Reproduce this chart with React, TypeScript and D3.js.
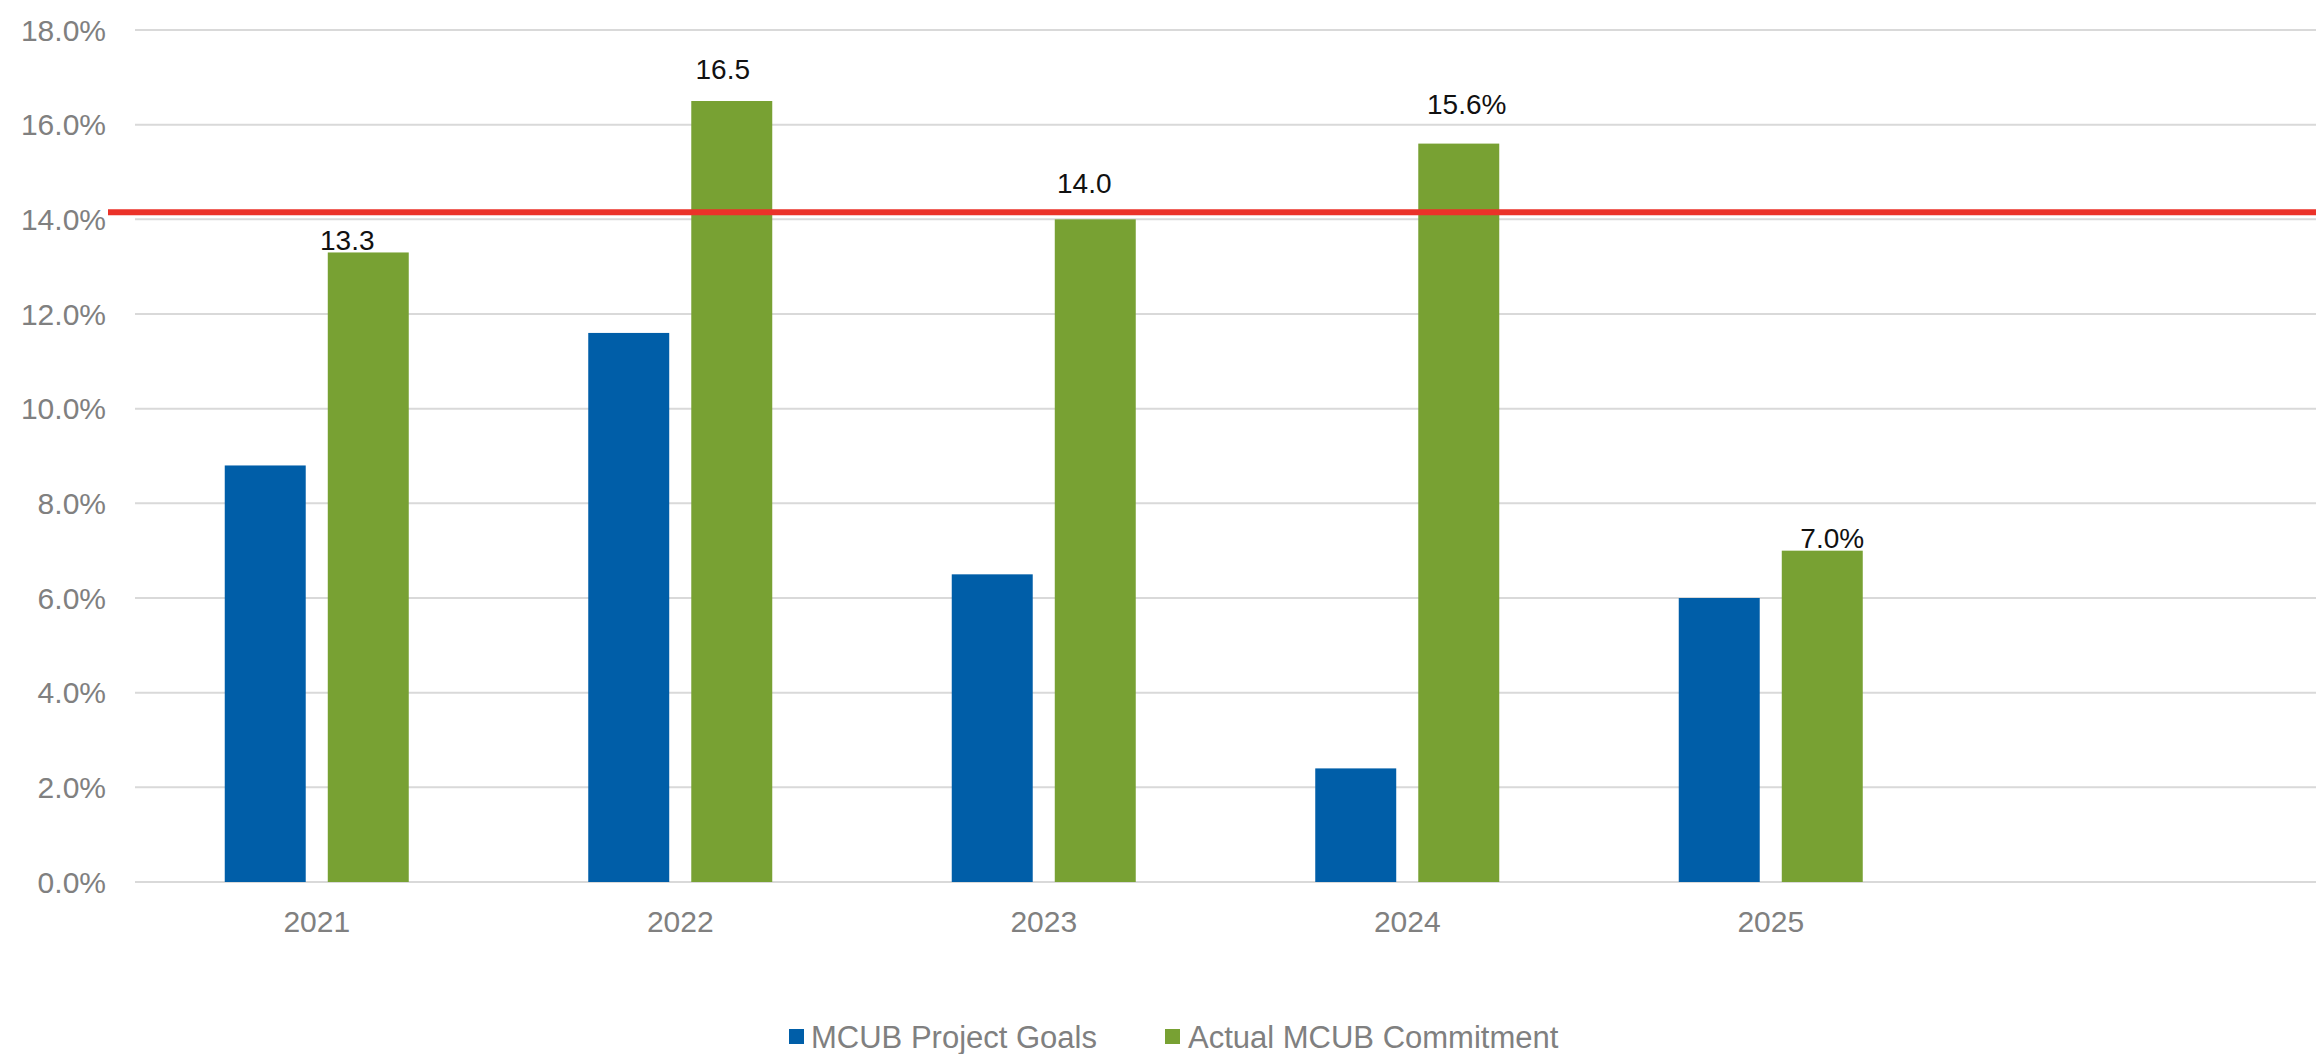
import React from "react";
import * as d3 from "d3";

const categories = ["2021", "2022", "2023", "2024", "2025", ""];
const seriesNames = ["MCUB Project Goals", "Actual MCUB Commitment"];
const projectGoals = [8.8, 11.6, 6.5, 2.4, 6.0];
const actualCommitment = [13.3, 16.5, 14.0, 15.6, 7.0];
const actualLabels = ["13.3", "16.5", "14.0", "15.6%", "7.0%"];
const targetLine = 14.15;
const yTicks = [0, 2, 4, 6, 8, 10, 12, 14, 16, 18];

const W = 2316;
const H = 1054;
const BLUE = "#005EA8";
const GREEN = "#78A133";
const RED = "#EB3229";
const GRAY = "#808080";
const GRID = "#D9D9D9";
const FONT = "'Liberation Sans', Arial, sans-serif";

// label nudges (px) to mimic manually placed labels
const labelDx = [-21, -9, -11, 8, 10];
const labelDy = [-2, -22, -26, -30, -3];

export default function App() {
  const left = 135;
  const right = W;
  const y = d3.scaleLinear().domain([0, 18]).range([882, 30]);
  const x0 = d3.scaleBand<string>().domain(categories).range([left, right]).padding(0);
  const x1 = d3
    .scaleBand<string>()
    .domain(seriesNames)
    .range([0, 184])
    .paddingInner(0.214)
    .paddingOuter(0);
  const groupOffset = (x0.bandwidth() - 184) / 2;
  const series = [projectGoals, actualCommitment];
  const colors = [BLUE, GREEN];

  return (
    <svg
      width={W}
      height={H}
      style={{ position: "absolute", left: 0, top: 0, background: "#fff" }}
      fontFamily={FONT}
    >
      {yTicks.map((t) => (
        <g key={t}>
          <line x1={left} x2={right} y1={y(t)} y2={y(t)} stroke={GRID} strokeWidth={2} />
          <text
            x={106}
            y={y(t)}
            dy="0.36em"
            textAnchor="end"
            fontSize={30}
            fill={GRAY}
          >
            {t.toFixed(1) + "%"}
          </text>
        </g>
      ))}
      {series.map((vals, si) =>
        vals.map((v, i) => {
          const bx = (x0(categories[i]) as number) + groupOffset + (x1(seriesNames[si]) as number);
          return (
            <rect
              key={si + "-" + i}
              x={bx}
              y={y(v)}
              width={x1.bandwidth()}
              height={y(0) - y(v)}
              fill={colors[si]}
            />
          );
        })
      )}
      {categories.map((c) =>
        c ? (
          <text
            key={c}
            x={(x0(c) as number) + x0.bandwidth() / 2}
            y={932}
            textAnchor="middle"
            fontSize={30}
            fill={GRAY}
          >
            {c}
          </text>
        ) : null
      )}
      <line x1={108} x2={right} y1={y(targetLine)} y2={y(targetLine)} stroke={RED} strokeWidth={6} />
      {actualCommitment.map((v, i) => {
        const cx =
          (x0(categories[i]) as number) +
          groupOffset +
          (x1(seriesNames[1]) as number) +
          x1.bandwidth() / 2;
        return (
          <text
            key={"l" + i}
            x={cx + labelDx[i]}
            y={y(v) + labelDy[i]}
            textAnchor="middle"
            fontSize={28}
            fill="#111"
          >
            {actualLabels[i]}
          </text>
        );
      })}
      <g>
        <rect x={789} y={1029} width={15} height={15} fill={BLUE} />
        <text x={811} y={1037} dy="0.36em" fontSize={31} fill={GRAY}>
          {seriesNames[0]}
        </text>
        <rect x={1165} y={1029} width={15} height={15} fill={GREEN} />
        <text x={1188} y={1037} dy="0.36em" fontSize={31} fill={GRAY}>
          {seriesNames[1]}
        </text>
      </g>
    </svg>
  );
}
